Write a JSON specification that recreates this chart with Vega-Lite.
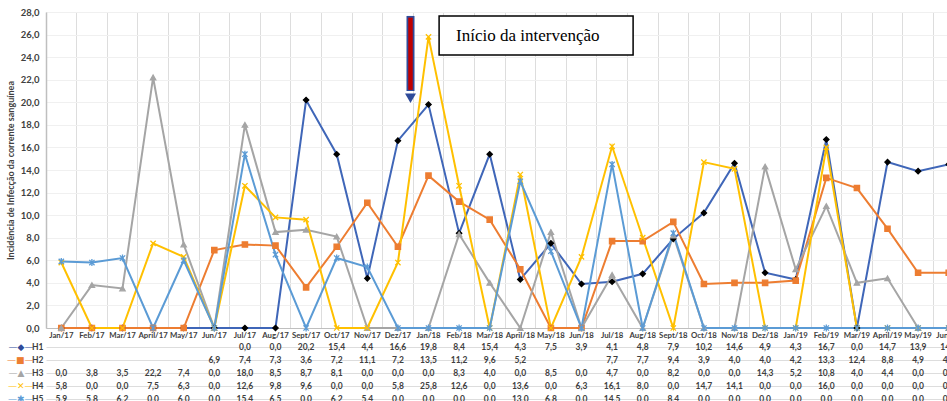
{
  "$schema": "https://vega.github.io/schema/vega-lite/v6.json",
  "padding": {"top": 7, "left": 6, "right": 0, "bottom": 0},
  "spacing": 1,
  "config": {
    "font": "Lato",
    "view": {"stroke": null},
    "axisQuantitative": {"labelOverlap": false, "tickCount": 14},
    "locale": {"number": {"decimal": ",", "thousands": ".", "grouping": [3], "currency": ["", ""]}}
  },
  "datasets": {
    "d": [
      {"m":"Jan/17","s":"H1","v":0,"b":1},{"m":"Feb/17","s":"H1","v":0,"b":1},{"m":"Mar/17","s":"H1","v":0,"b":1},{"m":"April/17","s":"H1","v":0,"b":1},{"m":"May/17","s":"H1","v":0,"b":1},{"m":"Jun/17","s":"H1","v":0,"b":1},
      {"m":"Jul/17","s":"H1","v":0},{"m":"Aug/17","s":"H1","v":0},{"m":"Sept/17","s":"H1","v":20.2},{"m":"Oct/17","s":"H1","v":15.4},{"m":"Nov/17","s":"H1","v":4.4},{"m":"Dez/17","s":"H1","v":16.6},
      {"m":"Jan/18","s":"H1","v":19.8},{"m":"Feb/18","s":"H1","v":8.4},{"m":"Mar/18","s":"H1","v":15.4},{"m":"April/18","s":"H1","v":4.3},{"m":"May/18","s":"H1","v":7.5},{"m":"Jun/18","s":"H1","v":3.9},
      {"m":"Jul/18","s":"H1","v":4.1},{"m":"Aug/18","s":"H1","v":4.8},{"m":"Sept/18","s":"H1","v":7.9},{"m":"Oct/18","s":"H1","v":10.2},{"m":"Nov/18","s":"H1","v":14.6},{"m":"Dez/18","s":"H1","v":4.9},
      {"m":"Jan/19","s":"H1","v":4.3},{"m":"Feb/19","s":"H1","v":16.7},{"m":"Mar/19","s":"H1","v":0},{"m":"April/19","s":"H1","v":14.7},{"m":"May/19","s":"H1","v":13.9},{"m":"Jun/19","s":"H1","v":14.5},

      {"m":"Jan/17","s":"H2","v":0,"b":1},{"m":"Feb/17","s":"H2","v":0,"b":1},{"m":"Mar/17","s":"H2","v":0,"b":1},{"m":"April/17","s":"H2","v":0,"b":1},{"m":"May/17","s":"H2","v":0,"b":1},{"m":"Jun/17","s":"H2","v":6.9},
      {"m":"Jul/17","s":"H2","v":7.4},{"m":"Aug/17","s":"H2","v":7.3},{"m":"Sept/17","s":"H2","v":3.6},{"m":"Oct/17","s":"H2","v":7.2},{"m":"Nov/17","s":"H2","v":11.1},{"m":"Dez/17","s":"H2","v":7.2},
      {"m":"Jan/18","s":"H2","v":13.5},{"m":"Feb/18","s":"H2","v":11.2},{"m":"Mar/18","s":"H2","v":9.6},{"m":"April/18","s":"H2","v":5.2},{"m":"May/18","s":"H2","v":0,"b":1},{"m":"Jun/18","s":"H2","v":0,"b":1},
      {"m":"Jul/18","s":"H2","v":7.7},{"m":"Aug/18","s":"H2","v":7.7},{"m":"Sept/18","s":"H2","v":9.4},{"m":"Oct/18","s":"H2","v":3.9},{"m":"Nov/18","s":"H2","v":4.0},{"m":"Dez/18","s":"H2","v":4.0},
      {"m":"Jan/19","s":"H2","v":4.2},{"m":"Feb/19","s":"H2","v":13.3},{"m":"Mar/19","s":"H2","v":12.4},{"m":"April/19","s":"H2","v":8.8},{"m":"May/19","s":"H2","v":4.9},{"m":"Jun/19","s":"H2","v":4.9},

      {"m":"Jan/17","s":"H3","v":0},{"m":"Feb/17","s":"H3","v":3.8},{"m":"Mar/17","s":"H3","v":3.5},{"m":"April/17","s":"H3","v":22.2},{"m":"May/17","s":"H3","v":7.4},{"m":"Jun/17","s":"H3","v":0},
      {"m":"Jul/17","s":"H3","v":18.0},{"m":"Aug/17","s":"H3","v":8.5},{"m":"Sept/17","s":"H3","v":8.7},{"m":"Oct/17","s":"H3","v":8.1},{"m":"Nov/17","s":"H3","v":0},{"m":"Dez/17","s":"H3","v":0},
      {"m":"Jan/18","s":"H3","v":0},{"m":"Feb/18","s":"H3","v":8.3},{"m":"Mar/18","s":"H3","v":4.0},{"m":"April/18","s":"H3","v":0},{"m":"May/18","s":"H3","v":8.5},{"m":"Jun/18","s":"H3","v":0},
      {"m":"Jul/18","s":"H3","v":4.7},{"m":"Aug/18","s":"H3","v":0},{"m":"Sept/18","s":"H3","v":8.2},{"m":"Oct/18","s":"H3","v":0},{"m":"Nov/18","s":"H3","v":0},{"m":"Dez/18","s":"H3","v":14.3},
      {"m":"Jan/19","s":"H3","v":5.2},{"m":"Feb/19","s":"H3","v":10.8},{"m":"Mar/19","s":"H3","v":4.0},{"m":"April/19","s":"H3","v":4.4},{"m":"May/19","s":"H3","v":0},{"m":"Jun/19","s":"H3","v":0},

      {"m":"Jan/17","s":"H4","v":5.8},{"m":"Feb/17","s":"H4","v":0},{"m":"Mar/17","s":"H4","v":0},{"m":"April/17","s":"H4","v":7.5},{"m":"May/17","s":"H4","v":6.3},{"m":"Jun/17","s":"H4","v":0},
      {"m":"Jul/17","s":"H4","v":12.6},{"m":"Aug/17","s":"H4","v":9.8},{"m":"Sept/17","s":"H4","v":9.6},{"m":"Oct/17","s":"H4","v":0},{"m":"Nov/17","s":"H4","v":0},{"m":"Dez/17","s":"H4","v":5.8},
      {"m":"Jan/18","s":"H4","v":25.8},{"m":"Feb/18","s":"H4","v":12.6},{"m":"Mar/18","s":"H4","v":0},{"m":"April/18","s":"H4","v":13.6},{"m":"May/18","s":"H4","v":0},{"m":"Jun/18","s":"H4","v":6.3},
      {"m":"Jul/18","s":"H4","v":16.1},{"m":"Aug/18","s":"H4","v":8.0},{"m":"Sept/18","s":"H4","v":0},{"m":"Oct/18","s":"H4","v":14.7},{"m":"Nov/18","s":"H4","v":14.1},{"m":"Dez/18","s":"H4","v":0},
      {"m":"Jan/19","s":"H4","v":0},{"m":"Feb/19","s":"H4","v":16.0},{"m":"Mar/19","s":"H4","v":0},{"m":"April/19","s":"H4","v":0},{"m":"May/19","s":"H4","v":0},{"m":"Jun/19","s":"H4","v":0},

      {"m":"Jan/17","s":"H5","v":5.9},{"m":"Feb/17","s":"H5","v":5.8},{"m":"Mar/17","s":"H5","v":6.2},{"m":"April/17","s":"H5","v":0},{"m":"May/17","s":"H5","v":6.0},{"m":"Jun/17","s":"H5","v":0},
      {"m":"Jul/17","s":"H5","v":15.4},{"m":"Aug/17","s":"H5","v":6.5},{"m":"Sept/17","s":"H5","v":0},{"m":"Oct/17","s":"H5","v":6.2},{"m":"Nov/17","s":"H5","v":5.4},{"m":"Dez/17","s":"H5","v":0},
      {"m":"Jan/18","s":"H5","v":0},{"m":"Feb/18","s":"H5","v":0},{"m":"Mar/18","s":"H5","v":0},{"m":"April/18","s":"H5","v":13.0},{"m":"May/18","s":"H5","v":6.8},{"m":"Jun/18","s":"H5","v":0},
      {"m":"Jul/18","s":"H5","v":14.5},{"m":"Aug/18","s":"H5","v":0},{"m":"Sept/18","s":"H5","v":8.4},{"m":"Oct/18","s":"H5","v":0},{"m":"Nov/18","s":"H5","v":0},{"m":"Dez/18","s":"H5","v":0},
      {"m":"Jan/19","s":"H5","v":0},{"m":"Feb/19","s":"H5","v":0},{"m":"Mar/19","s":"H5","v":0},{"m":"April/19","s":"H5","v":0},{"m":"May/19","s":"H5","v":0},{"m":"Jun/19","s":"H5","v":0}
    ]
  },
  "vconcat": [
    {
      "width": 918,
      "height": 316,
      "layer": [
        {
          "data": {"name": "d"},
          "mark": {"type": "line", "strokeWidth": 2},
          "encoding": {
            "x": {
              "field": "m", "type": "ordinal",
              "scale": {"type": "band", "paddingInner": 0, "paddingOuter": 0,
                "domain": ["Jan/17","Feb/17","Mar/17","April/17","May/17","Jun/17","Jul/17","Aug/17","Sept/17","Oct/17","Nov/17","Dez/17","Jan/18","Feb/18","Mar/18","April/18","May/18","Jun/18","Jul/18","Aug/18","Sept/18","Oct/18","Nov/18","Dez/18","Jan/19","Feb/19","Mar/19","April/19","May/19","Jun/19"]},
              "axis": {"title": null, "labelAngle": 0, "labelFontSize": 7.8, "labelFontWeight": "bold", "labelColor": "#404040",
                "labelPadding": 3, "ticks": false, "domainColor": "#bfbfbf", "labelOverlap": false, "labelBound": false,
                "grid": true, "gridColor": "#dddddd", "bandPosition": 0}
            },
            "y": {
              "field": "v", "type": "quantitative",
              "scale": {"domain": [0, 28], "nice": false},
              "axis": {"title": "Incidência de Infecção da corrente sanguínea", "titleFontSize": 9, "titleFontWeight": "bold", "titleColor": "#404040", "titlePadding": 5,
                "tickCount": 14, "format": ".1f", "labelOverlap": false,
                "labelFontSize": 9.5, "labelFontWeight": "bold", "labelColor": "#404040", "labelPadding": 7, "ticks": false,
                "domain": true, "domainColor": "#bfbfbf", "domainWidth": 1.5, "grid": true, "gridColor": "#f0f0f0"}
            },
            "color": {"field": "s", "type": "nominal", "legend": null,
              "scale": {"domain": ["H1","H2","H3","H4","H5"], "range": ["#3f66b8","#ed7d31","#a5a5a5","#ffc000","#5b9bd5"]}}
          }
        },
        {
          "data": {"name": "d"},
          "mark": {"type": "point", "filled": true, "opacity": 1, "size": 28, "strokeWidth": 1.3},
          "encoding": {
            "x": {"field": "m", "type": "ordinal"},
            "y": {"field": "v", "type": "quantitative"},
            "shape": {"field": "s", "type": "nominal", "legend": null,
              "scale": {"domain": ["H1","H2","H3","H4","H5"], "range": ["diamond","square","triangle-up","M-1,-1L1,1M-1,1L1,-1","M-1,-1L1,1M-1,1L1,-1M0,-1.3L0,1.3"]}},
            "fill": {"field": "s", "type": "nominal", "legend": null,
              "scale": {"domain": ["H1","H2","H3","H4","H5"], "range": ["#000000","#ed7d31","#a5a5a5","#ffc000","#5b9bd5"]}},
            "stroke": {"field": "s", "type": "nominal", "legend": null,
              "scale": {"domain": ["H1","H2","H3","H4","H5"], "range": ["#000000","#ed7d31","#a5a5a5","#ffc000","#5b9bd5"]}}
          }
        },
        {
          "data": {"values": [{}]},
          "mark": {"type": "rule", "strokeWidth": 8, "color": "#2f4b9a", "xOffset": -18},
          "encoding": {"x": {"datum": "Jan/18", "type": "ordinal"}, "y": {"datum": 27.65}, "y2": {"datum": 21.0}}
        },
        {
          "data": {"values": [{}]},
          "mark": {"type": "rule", "strokeWidth": 4.5, "color": "#c00000", "xOffset": -18},
          "encoding": {"x": {"datum": "Jan/18", "type": "ordinal"}, "y": {"datum": 27.5}, "y2": {"datum": 21.1}}
        },
        {
          "data": {"values": [{}]},
          "mark": {"type": "point", "shape": "triangle-down", "filled": true, "size": 120, "color": "#2f4b9a", "opacity": 1, "xOffset": -18},
          "encoding": {"x": {"datum": "Jan/18", "type": "ordinal"}, "y": {"datum": 20.35}}
        },
        {
          "data": {"values": [{}]},
          "mark": {"type": "rect", "fill": "white", "stroke": "black", "strokeWidth": 1.5, "xOffset": -20, "x2Offset": 21},
          "encoding": {"x": {"datum": "Feb/18", "type": "ordinal", "bandPosition": 0.5}, "x2": {"datum": "Jul/18", "bandPosition": 0.5}, "y": {"datum": 27.65}, "y2": {"datum": 24.2}}
        },
        {
          "data": {"values": [{}]},
          "mark": {"type": "text", "text": "Início da intervenção", "font": "Liberation Serif", "fontSize": 17, "color": "black", "align": "left", "baseline": "middle", "xOffset": -3},
          "encoding": {"x": {"datum": "Feb/18", "type": "ordinal"}, "y": {"datum": 25.9}}
        }
      ]
    },
    {
      "width": 918,
      "height": 65,
      "data": {"name": "d"},
      "transform": [{"filter": "!datum.b"}],
      "layer": [
        {
          "mark": {"type": "text", "fontSize": 8.5, "fontWeight": "bold", "color": "#404040"},
          "encoding": {
            "x": {"field": "m", "type": "ordinal",
              "scale": {"type": "band", "paddingInner": 0, "paddingOuter": 0,
                "domain": ["Jan/17","Feb/17","Mar/17","April/17","May/17","Jun/17","Jul/17","Aug/17","Sept/17","Oct/17","Nov/17","Dez/17","Jan/18","Feb/18","Mar/18","April/18","May/18","Jun/18","Jul/18","Aug/18","Sept/18","Oct/18","Nov/18","Dez/18","Jan/19","Feb/19","Mar/19","April/19","May/19","Jun/19"]},
              "axis": {"orient": "top", "title": null, "labels": false, "ticks": false, "domain": false, "grid": true, "gridColor": "#dddddd", "bandPosition": 0}},
            "y": {"field": "s", "type": "nominal",
              "scale": {"domain": ["H1","H2","H3","H4","H5"], "paddingInner": 0, "paddingOuter": 0},
              "axis": {"orient": "left", "title": null, "ticks": false, "domain": false, "labelFontSize": 8.5, "labelFontWeight": "bold", "labelColor": "#404040", "labelPadding": 3,
                "grid": true, "gridColor": "#dddddd", "bandPosition": 0}},
            "text": {"field": "v", "type": "quantitative", "format": ".1f"}
          }
        },
        {
          "mark": {"type": "text", "opacity": 0},
          "encoding": {
            "x": {"field": "m", "type": "ordinal", "axis": null},
            "y": {"field": "s", "type": "nominal",
              "axis": {"orient": "left", "title": null, "ticks": false, "domain": false, "grid": false, "labelPadding": 13, "labelFontSize": 9, "labelFont": "DejaVu Sans",
                "labelExpr": "datum.value=='H1'?'—◆—':datum.value=='H2'?'—■—':datum.value=='H3'?'—▲—':datum.value=='H4'?'—✕—':'—✱—'",
                "labelColor": {"condition": [{"test": "datum.value=='H1'", "value": "#2f4b9a"}, {"test": "datum.value=='H2'", "value": "#ed7d31"}, {"test": "datum.value=='H3'", "value": "#a5a5a5"}, {"test": "datum.value=='H4'", "value": "#ffc000"}], "value": "#5b9bd5"}}},
            "text": {"value": ""}
          }
        }
      ],
      "resolve": {"axis": {"y": "independent"}}
    }
  ]
}
